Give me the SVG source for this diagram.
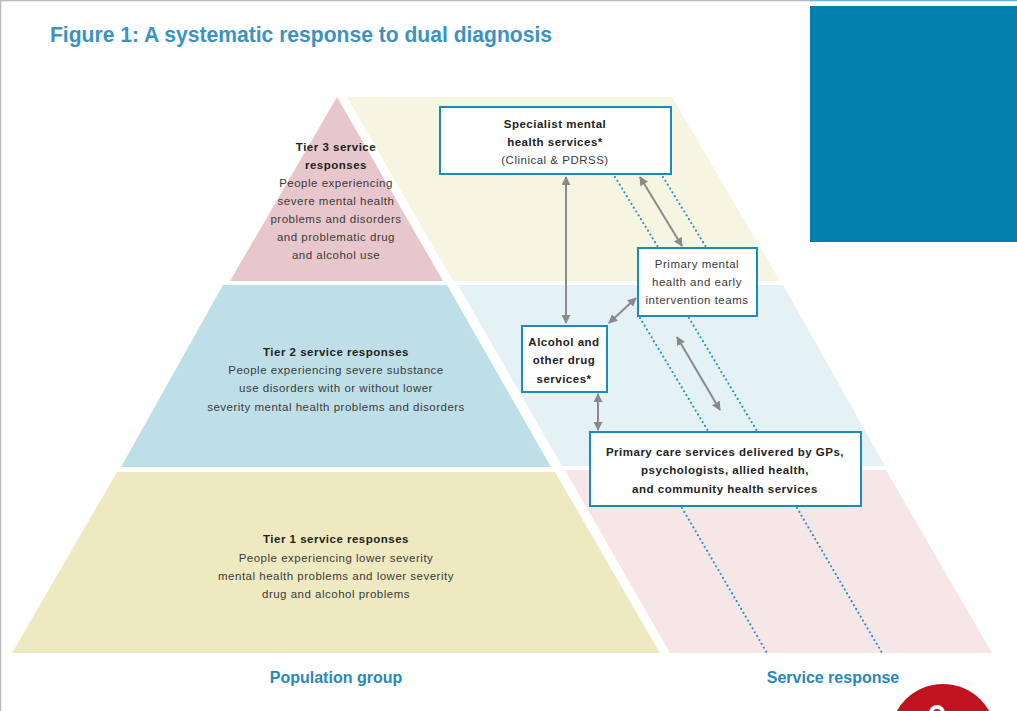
<svg xmlns="http://www.w3.org/2000/svg" width="1017" height="711" viewBox="0 0 1017 711">
  <style>
    .title { font-family: "Liberation Sans", Arial, sans-serif; font-weight: bold; fill: #3a93c2; }
    .axis { font-family: "Liberation Sans", Arial, sans-serif; font-weight: bold; font-size: 16px; fill: #2a88b8; text-anchor: middle; }
    .t { font-family: "Liberation Sans", Arial, sans-serif; font-size: 11.5px; letter-spacing: 0.5px; fill: #3a3a3a; text-anchor: middle; }
    .b { font-weight: bold; fill: #222; }
    .box { fill: #ffffff; stroke: #1b8cba; stroke-width: 2; }
    .arrow { stroke: #8a8a8a; stroke-width: 2; fill: none; marker-start: url(#head); marker-end: url(#head); }
    .dots { stroke: #2a8fc0; stroke-width: 2.2; stroke-linecap: round; stroke-dasharray: 0 4.5; fill: none; }
  </style>
  <defs>
    <marker id="head" viewBox="0 0 10 10" refX="9" refY="5" markerWidth="4.5" markerHeight="4.5" orient="auto-start-reverse">
      <path d="M0,0 L10,5 L0,10 Z" fill="#8a8a8a"/>
    </marker>
  </defs>

  <!-- page frame -->
  <rect x="0" y="0" width="1017" height="711" fill="#ffffff"/>
  <line x1="0.5" y1="0" x2="0.5" y2="711" stroke="#b8b8b8" stroke-width="1.5"/>
  <line x1="0" y1="0.5" x2="810" y2="0.5" stroke="#b8b8b8" stroke-width="1.5"/>
  <line x1="810" y1="0.5" x2="1017" y2="0.5" stroke="#6bb6d6" stroke-width="1.5"/>
  <rect x="810" y="6" width="207" height="236" fill="#0080ad"/>
  <circle cx="943" cy="737" r="53" fill="#c0131f"/>
  <circle cx="937" cy="713" r="6" fill="none" stroke="#ffffff" stroke-width="4"/>

  <text class="title" x="50" y="42" font-size="22" textLength="502" lengthAdjust="spacingAndGlyphs">Figure 1: A systematic response to dual diagnosis</text>

  <!-- service response bands -->
  <g id="band-top">
    <polygon points="347,97 672,97 780,281 453,281" fill="#f6f5e2"/>
  </g>
  <g id="band-middle">
    <polygon points="458,285 783,285 885,466 562,466" fill="#e4f1f5"/>
  </g>
  <g id="band-bottom">
    <polygon points="565,470 886,470 992,653 670,653" fill="#f6e6e8"/>
  </g>

  <!-- population pyramid -->
  <g id="tier3">
    <polygon points="337,97 443,281 230,281" fill="#e8c7cc"/>
    <text class="t b" x="336" y="151">Tier 3 service</text>
    <text class="t b" x="336" y="169">responses</text>
    <text class="t" x="336" y="187">People experiencing</text>
    <text class="t" x="336" y="205">severe mental health</text>
    <text class="t" x="336" y="223">problems and disorders</text>
    <text class="t" x="336" y="241">and problematic drug</text>
    <text class="t" x="336" y="259">and alcohol use</text>
  </g>
  <g id="tier2">
    <polygon points="223,285 447,285 551,467 121,467" fill="#bfdfe8"/>
    <text class="t b" x="336" y="356">Tier 2 service responses</text>
    <text class="t" x="336" y="374">People experiencing severe substance</text>
    <text class="t" x="336" y="392">use disorders with or without lower</text>
    <text class="t" x="336" y="411">severity mental health problems and disorders</text>
  </g>
  <g id="tier1">
    <polygon points="117,472 555,472 660,653 12,653" fill="#efe9c2"/>
    <text class="t b" x="336" y="543">Tier 1 service responses</text>
    <text class="t" x="336" y="562">People experiencing lower severity</text>
    <text class="t" x="336" y="580">mental health problems and lower severity</text>
    <text class="t" x="336" y="598">drug and alcohol problems</text>
  </g>

  <!-- connectors -->
  <g id="connectors">
    <line class="dots" x1="615" y1="177" x2="658" y2="247"/>
    <line class="dots" x1="663" y1="177" x2="706" y2="247"/>
    <line class="dots" x1="640" y1="318" x2="708" y2="431"/>
    <line class="dots" x1="689" y1="318" x2="757" y2="431"/>
    <line class="dots" x1="682" y1="508" x2="767" y2="653"/>
    <line class="dots" x1="797" y1="508" x2="882" y2="653"/>
    <line class="arrow" x1="566" y1="177" x2="566" y2="323"/>
    <line class="arrow" x1="640" y1="177" x2="682" y2="246"/>
    <line class="arrow" x1="636" y1="298" x2="609" y2="323"/>
    <line class="arrow" x1="598" y1="394" x2="598" y2="430"/>
    <line class="arrow" x1="677" y1="337" x2="720" y2="410"/>
  </g>

  <!-- service boxes -->
  <g id="specialist">
    <rect class="box" x="440" y="107" width="231" height="67"/>
    <text class="t b" x="555" y="128">Specialist mental</text>
    <text class="t b" x="555" y="146">health services*</text>
    <text class="t" x="555" y="164">(Clinical &amp; PDRSS)</text>
  </g>
  <g id="primary-mental">
    <rect class="box" x="638" y="248" width="119" height="68"/>
    <text class="t" x="697" y="268">Primary mental</text>
    <text class="t" x="697" y="286">health and early</text>
    <text class="t" x="697" y="304">intervention teams</text>
  </g>
  <g id="aod">
    <rect class="box" x="522" y="326" width="85" height="66"/>
    <text class="t b" x="564" y="346">Alcohol and</text>
    <text class="t b" x="564" y="364">other drug</text>
    <text class="t b" x="564" y="383">services*</text>
  </g>
  <g id="primary-care">
    <rect class="box" x="590" y="432" width="271" height="74"/>
    <text class="t b" x="725" y="456">Primary care services delivered by GPs,</text>
    <text class="t b" x="725" y="474">psychologists, allied health,</text>
    <text class="t b" x="725" y="493">and community health services</text>
  </g>

  <text class="axis" x="336" y="683">Population group</text>
  <text class="axis" x="833" y="683">Service response</text>
</svg>
